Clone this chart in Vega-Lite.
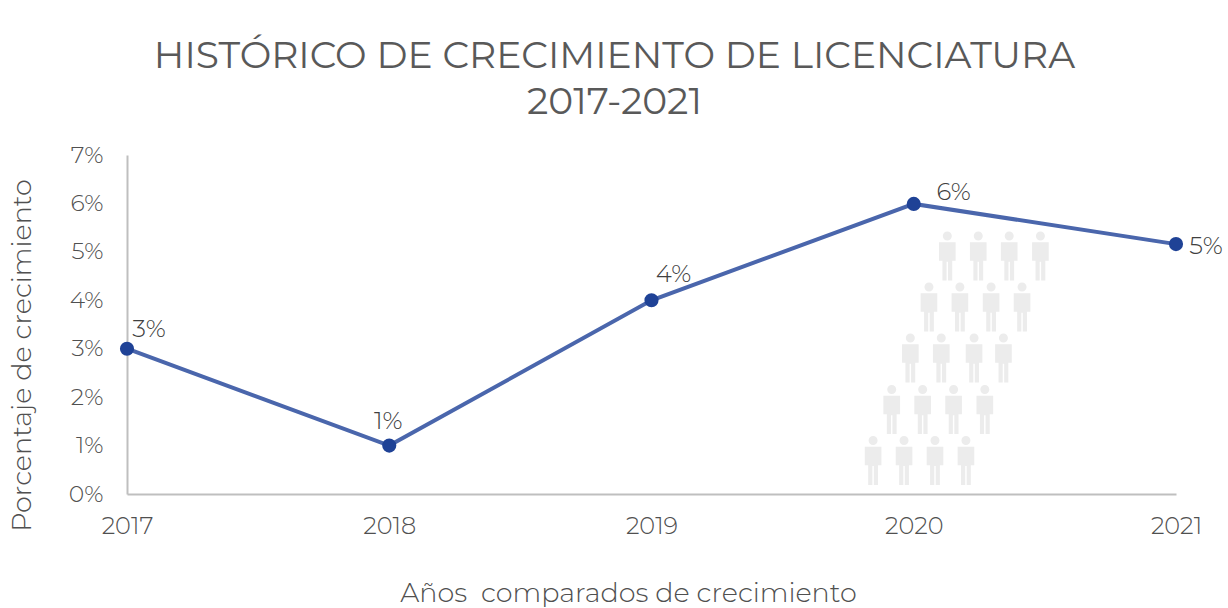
{
"$schema":"https://vega.github.io/schema/vega-lite/v6.json",
"width":1049,"height":339,
"padding":{"left":127,"top":155,"right":52,"bottom":114},
"autosize":{"type":"none"},
"background":"white",
"title":{"text":["HISTÓRICO DE CRECIMIENTO DE LICENCIATURA","2017-2021"],"anchor":"middle","font":"Montserrat","fontSize":37.6,"fontWeight":"normal","color":"#595959","lineHeight":46,"offset":21,"dx":-37,"frame":"group"},
"config":{"view":{"stroke":null}},
"datasets":{
"serie":[
{"anio":2017,"pct":3,"etiqueta":"3%"},
{"anio":2018,"pct":1,"etiqueta":"1%"},
{"anio":2019,"pct":4,"etiqueta":"4%"},
{"anio":2020,"pct":5.99,"etiqueta":"6%"},
{"anio":2021,"pct":5.16,"etiqueta":"5%"}
],
"personas":[
{"a":2020.128,"p":4.914},{"a":2020.246,"p":4.914},{"a":2020.364,"p":4.914},{"a":2020.483,"p":4.914},
{"a":2020.058,"p":3.861},{"a":2020.176,"p":3.861},{"a":2020.295,"p":3.861},{"a":2020.413,"p":3.861},
{"a":2019.987,"p":2.808},{"a":2020.105,"p":2.808},{"a":2020.230,"p":2.808},{"a":2020.342,"p":2.808},
{"a":2019.916,"p":1.745},{"a":2020.034,"p":1.745},{"a":2020.152,"p":1.745},{"a":2020.271,"p":1.745},
{"a":2019.845,"p":0.692},{"a":2019.963,"p":0.692},{"a":2020.081,"p":0.692},{"a":2020.199,"p":0.692}
]},
"layer":[
{"data":{"name":"personas"},
"mark":{"type":"point","filled":true,"opacity":1,"color":"#ececec","size":2401,"shape":"M-0.184 -0.816A0.184 0.184 0 1 1 0.184 -0.816A0.184 0.184 0 1 1 -0.184 -0.816Z M-0.34 -0.56L0.34 -0.56L0.34 0.19L0.2 0.19L0.2 1L0.03 1L0.03 0.23L-0.03 0.23L-0.03 1L-0.2 1L-0.2 0.19L-0.34 0.19Z"},
"encoding":{
"x":{"field":"a","type":"quantitative","scale":{"domain":[2017,2021]},
"axis":{"values":[2017,2018,2019,2020,2021],"format":"d","grid":false,"ticks":false,"domainColor":"#bfbfbf","domainWidth":2,"labelFont":"Montserrat","labelFontSize":24,"labelColor":"#505050","labelFontWeight":300,"labelPadding":20,"labelFlush":false,"labelOverlap":false,
"title":"Años\u00a0 comparados de crecimiento","titleFont":"Montserrat","titleFontSize":27,"titleFontWeight":300,"titleColor":"#505050","titleX":501,"titleY":86}},
"y":{"field":"p","type":"quantitative","scale":{"domain":[0,7]},
"axis":{"values":[0,1,2,3,4,5,6,7],"labelExpr":"datum.value + '%'","grid":false,"ticks":false,"domainColor":"#bfbfbf","domainWidth":2,"labelFont":"Montserrat","labelFontSize":23.5,"labelColor":"#505050","labelFontWeight":300,"labelPadding":24,"labelOverlap":false,
"title":"Porcentaje de crecimiento","titleFont":"Montserrat","titleFontSize":27,"titleFontWeight":300,"titleColor":"#505050","titleX":-91,"titleY":200}}
}},
{"data":{"name":"serie"},
"mark":{"type":"line","color":"#4a66ac","strokeWidth":4,"clip":false},
"encoding":{"x":{"field":"anio","type":"quantitative"},"y":{"field":"pct","type":"quantitative"}}},
{"data":{"name":"serie"},
"mark":{"type":"point","filled":true,"opacity":1,"color":"#1f4296","size":200,"clip":false},
"encoding":{"x":{"field":"anio","type":"quantitative"},"y":{"field":"pct","type":"quantitative"}}},
{"data":{"name":"serie"},"transform":[{"filter":"datum.anio==2017"}],
"mark":{"type":"text","font":"Montserrat","fontSize":24.5,"fontWeight":300,"color":"#404040","dx":22,"dy":-19},
"encoding":{"x":{"field":"anio","type":"quantitative"},"y":{"field":"pct","type":"quantitative"},"text":{"field":"etiqueta"}}},
{"data":{"name":"serie"},"transform":[{"filter":"datum.anio==2018"}],
"mark":{"type":"text","font":"Montserrat","fontSize":24.5,"fontWeight":300,"color":"#404040","dx":-1,"dy":-24},
"encoding":{"x":{"field":"anio","type":"quantitative"},"y":{"field":"pct","type":"quantitative"},"text":{"field":"etiqueta"}}},
{"data":{"name":"serie"},"transform":[{"filter":"datum.anio==2019"}],
"mark":{"type":"text","font":"Montserrat","fontSize":24.5,"fontWeight":300,"color":"#404040","dx":22,"dy":-25},
"encoding":{"x":{"field":"anio","type":"quantitative"},"y":{"field":"pct","type":"quantitative"},"text":{"field":"etiqueta"}}},
{"data":{"name":"serie"},"transform":[{"filter":"datum.anio==2020"}],
"mark":{"type":"text","font":"Montserrat","fontSize":24.5,"fontWeight":300,"color":"#404040","dx":40,"dy":-11},
"encoding":{"x":{"field":"anio","type":"quantitative"},"y":{"field":"pct","type":"quantitative"},"text":{"field":"etiqueta"}}},
{"data":{"name":"serie"},"transform":[{"filter":"datum.anio==2021"}],
"mark":{"type":"text","font":"Montserrat","fontSize":24.5,"fontWeight":300,"color":"#404040","dx":30,"dy":3},
"encoding":{"x":{"field":"anio","type":"quantitative"},"y":{"field":"pct","type":"quantitative"},"text":{"field":"etiqueta"}}}
]
}
